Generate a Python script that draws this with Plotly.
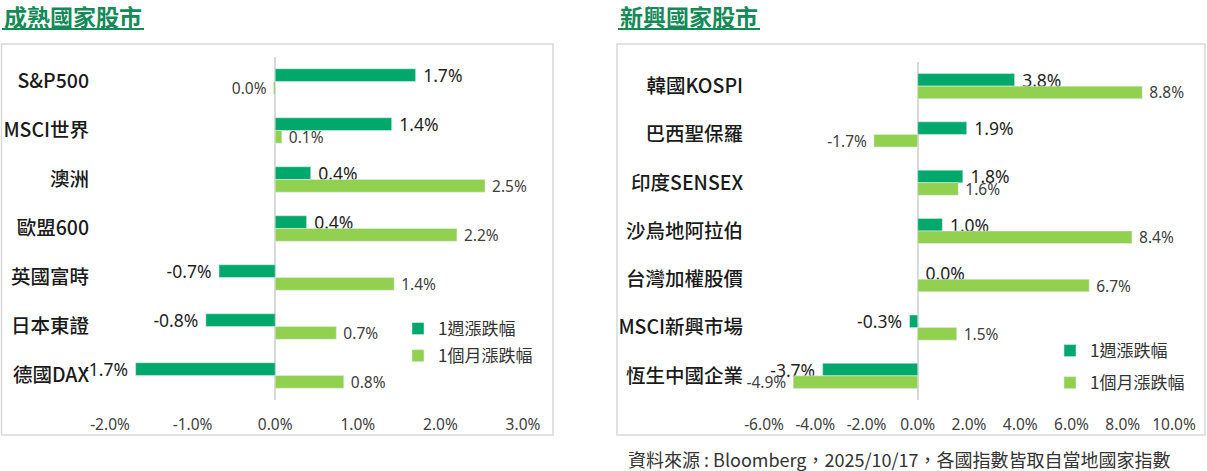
import plotly.graph_objects as go

W, H = 1207, 471

# 成熟國家股市
dev_names = ["S&P500", "MSCI世界", "澳洲", "歐盟600", "英國富時", "日本東證", "德國DAX"]
dev_week = [1.70, 1.41, 0.43, 0.38, -0.68, -0.84, -1.69]
dev_month = [-0.02, 0.08, 2.54, 2.20, 1.44, 0.74, 0.83]
dev_ticks = [-2, -1, 0, 1, 2, 3]

# 新興國家股市
emg_names = ["韓國KOSPI", "巴西聖保羅", "印度SENSEX", "沙烏地阿拉伯", "台灣加權股價", "MSCI新興市場", "恆生中國企業"]
emg_week = [3.78, 1.91, 1.76, 0.96, 0.01, -0.32, -3.71]
emg_month = [8.76, -1.71, 1.58, 8.36, 6.69, 1.52, -4.86]
emg_ticks = [-6, -4, -2, 0, 2, 4, 6, 8, 10]

series_names = ["1週漲跌幅", "1個月漲跌幅"]
DARK = "#00a86b"
LIGHT = "#92d050"
GREEN_TITLE = "#158a58"
NUM_FONT = "Noto Sans, Noto Sans CJK TC, sans-serif"
CJK_FONT = "Noto Sans CJK TC, Noto Sans, sans-serif"


def px(x):
    return x / W


def py(y):
    return 1 - y / H


def pct(v):
    s = f"{v:.1f}%"
    if s == "-0.0%":
        s = "0.0%"
    return s


def labels(vals):
    # pad outside labels a little away from the bar end
    return [("\u00a0" + pct(v)) if v >= 0 else (pct(v) + "\u00a0") for v in vals]


fig = go.Figure()

panels = [("x", "y", "legend", dev_names, dev_week, dev_month),
          ("x2", "y2", "legend2", emg_names, emg_week, emg_month)]
for xa, ya, lg, names, week, month in panels:
    fig.add_trace(go.Bar(
        y=names, x=week, orientation="h", name=series_names[0],
        marker_color=DARK, text=labels(week), textposition="outside",
        textfont=dict(family=NUM_FONT, size=17.5, color="#1f1f1f"),
        constraintext="none", cliponaxis=False, legendgroup=lg + "a",
        xaxis=xa, yaxis=ya, legend=lg))
    fig.add_trace(go.Bar(
        y=names, x=month, orientation="h", name=series_names[1],
        marker_color=LIGHT, text=labels(month), textposition="outside",
        textfont=dict(family=NUM_FONT, size=15.5, color="#404040"),
        constraintext="none", cliponaxis=False, legendgroup=lg + "b",
        xaxis=xa, yaxis=ya, legend=lg))

xcommon = dict(showgrid=False, zeroline=True, zerolinecolor="#d9d9d9", zerolinewidth=1.5,
               showline=False, ticks="outside", ticklen=10, tickcolor="rgba(0,0,0,0)",
               automargin=False,
               tickfont=dict(family=NUM_FONT, size=15.5, color="#404040"), fixedrange=True)
ycommon = dict(showgrid=False, zeroline=False, showline=False, autorange="reversed",
               ticks="outside", ticklen=16, tickcolor="rgba(0,0,0,0)",
               automargin=False,
               tickfont=dict(family=CJK_FONT, size=19.5, color="#1a1a1a", weight=500),
               fixedrange=True)

legend_common = dict(font=dict(family=CJK_FONT, size=17, color="#333333"),
                     bgcolor="rgba(0,0,0,0)", xanchor="left", yanchor="top",
                     traceorder="grouped", itemclick=False, itemdoubleclick=False)

fig.update_layout(
    width=W, height=H,
    margin=dict(l=0, r=0, t=0, b=0, autoexpand=False),
    paper_bgcolor="white", plot_bgcolor="white",
    barmode="group", bargap=0.48, bargroupgap=0,
    showlegend=True,
    xaxis=dict(domain=[px(110), px(523)], range=[-2, 3],
               tickvals=dev_ticks, ticktext=[pct(t) for t in dev_ticks], anchor="y", **xcommon),
    yaxis=dict(domain=[py(400), py(57)], anchor="x", **ycommon),
    xaxis2=dict(domain=[px(764), px(1174)], range=[-6, 10],
                tickvals=emg_ticks, ticktext=[pct(t) for t in emg_ticks], anchor="y2", **xcommon),
    yaxis2=dict(domain=[py(400), py(62)], anchor="x2", **ycommon),
    legend=dict(x=px(398), y=py(311), tracegroupgap=2, **legend_common),
    legend2=dict(x=px(1050), y=py(333), tracegroupgap=7, **legend_common),
)

# panel frames and title underlines
for x0, x1 in [(1.5, 553), (617, 1205)]:
    fig.add_shape(type="rect", xref="paper", yref="paper",
                  x0=px(x0), x1=px(x1), y0=py(435), y1=py(44),
                  line=dict(color="#d9d9d9", width=1.5), fillcolor="rgba(0,0,0,0)", layer="below")
for x0, x1 in [(2, 144), (618, 760)]:
    fig.add_shape(type="line", xref="paper", yref="paper",
                  x0=px(x0), x1=px(x1), y0=py(29), y1=py(29),
                  line=dict(color=GREEN_TITLE, width=2))

fig.add_annotation(text="<b>成熟國家股市</b>", x=px(2), y=py(16), xref="paper", yref="paper",
                   xanchor="left", yanchor="middle", showarrow=False,
                   font=dict(family=CJK_FONT, size=23, color=GREEN_TITLE))
fig.add_annotation(text="<b>新興國家股市</b>", x=px(618), y=py(16), xref="paper", yref="paper",
                   xanchor="left", yanchor="middle", showarrow=False,
                   font=dict(family=CJK_FONT, size=23, color=GREEN_TITLE))
fig.add_annotation(text="資料來源 : Bloomberg，2025/10/17，各國指數皆取自當地國家指數",
                   x=px(626), y=py(459), xref="paper", yref="paper",
                   xanchor="left", yanchor="middle", showarrow=False,
                   font=dict(family=CJK_FONT, size=18, color="#333333"))

# drop the page's default body margin so the figure sits at the window's corner
fig.write_html("out.html", config={"displayModeBar": False},
               post_script="document.body.style.margin='0';")
